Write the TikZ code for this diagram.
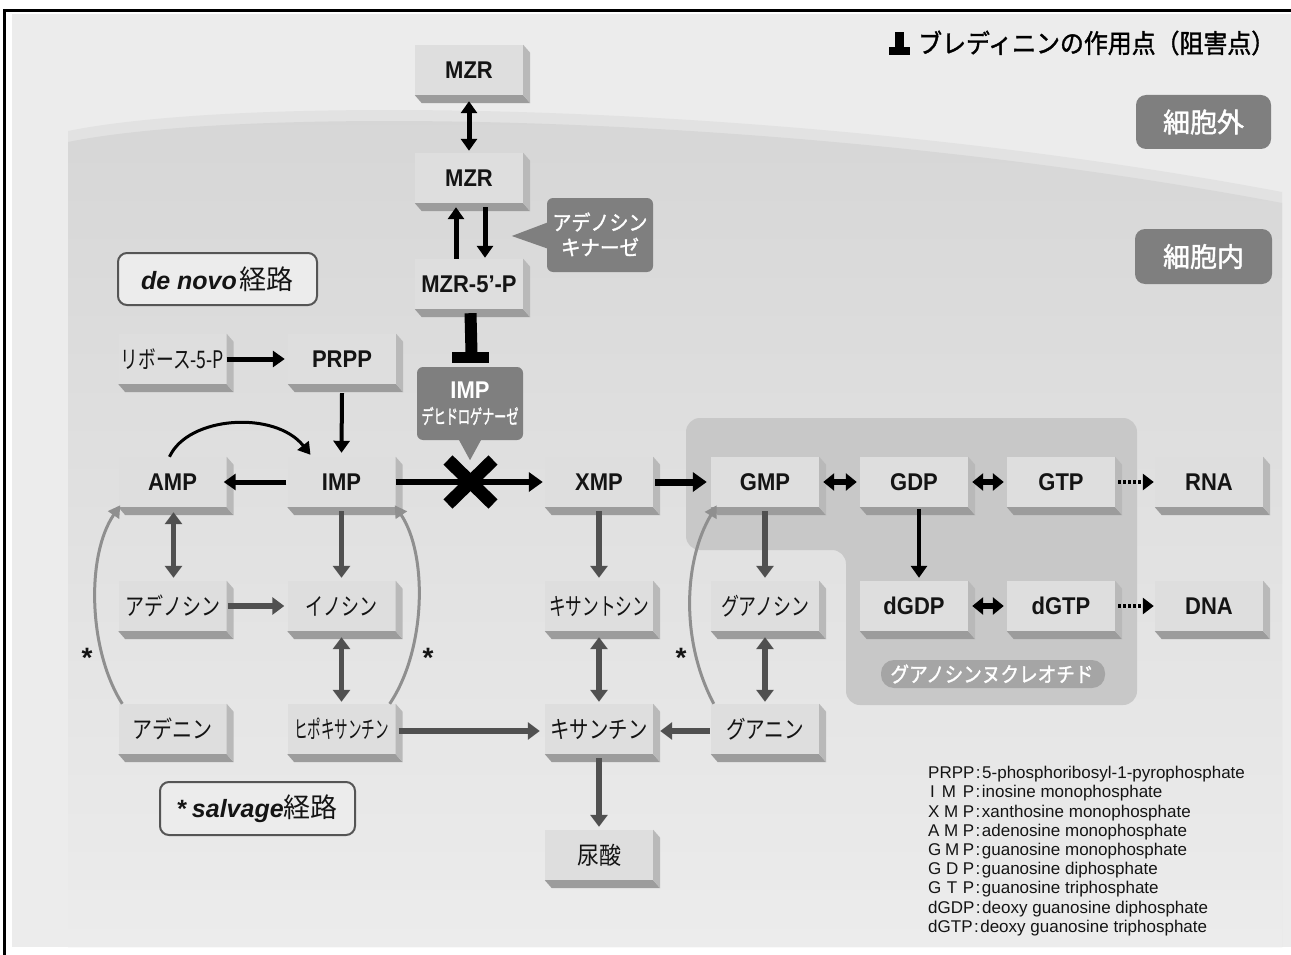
\documentclass[tikz,border=0pt]{standalone}
\usepackage{fontspec}
\usepackage{graphicx}
\setmainfont{Liberation Sans}
\newfontfamily\jp{Noto Sans CJK JP}
\newfontfamily\jpb[FakeBold=1.5]{Noto Sans CJK JP}
\usetikzlibrary{arrows.meta,calc}
\definecolor{bgc}{HTML}{ECECEC}
\definecolor{celltop}{HTML}{D6D6D6}
\definecolor{cellmid}{HTML}{E1E1E1}
\definecolor{bandc}{HTML}{E2E2E2}
\definecolor{boxface}{HTML}{DEDEDE}
\definecolor{boxside}{HTML}{B9B9B9}
\definecolor{boxbot}{HTML}{9C9C9C}
\definecolor{guanc}{HTML}{C8C8C8}
\definecolor{calloutc}{HTML}{7F7F7F}
\definecolor{pillc}{HTML}{A5A5A5}
\definecolor{grayarr}{HTML}{505050}
\definecolor{salvc}{HTML}{8F8F8F}
\definecolor{txtc}{HTML}{141414}
\definecolor{labborder}{HTML}{555555}
\newcommand\fsz[1]{\fontsize{#1}{#1}\selectfont}
\newcommand\fitw[2]{\resizebox{#1}{\height}{#2}}
\newcommand\bx[4][pbox]{%
  \node[#1] (#2) at (#3) {\scalebox{1}[1.1]{#4}};
  \fill[boxbot] (#2.south west) -- ++(7,8) -- ([shift={(7,8)}]#2.south east) -- (#2.south east) -- cycle;
  \fill[boxside] (#2.north east) -- ++(7,8) -- ([shift={(7,8)}]#2.south east) -- (#2.south east) -- cycle;
}
\tikzset{
  pbox/.style={fill=boxface, minimum width=108pt, minimum height=50pt, inner sep=0pt, text=txtc, font=\fsz{22}\bfseries},
  jbox/.style={pbox, font=\jp\fsz{22}},
  calloutbox/.style={fill=calloutc, rounded corners=6pt, inner sep=0pt},
  wtxt/.style={text=white, inner sep=0pt},
  lab/.style={draw=labborder, line width=2pt, rounded corners=9pt, fill=bgc, inner sep=0pt, text=txtc},
  blkarr/.style={draw=black, line width=5pt, -{Triangle[length=12pt,width=16pt]}},
  fatarr/.style={draw=black, line width=7pt, -{Triangle[length=14pt,width=19pt]}},
  blkdbl/.style={draw=black, line width=5pt, {Triangle[length=12pt,width=16pt]}-{Triangle[length=12pt,width=16pt]}},
  fatdbl/.style={draw=black, line width=6pt, {Triangle[length=11pt,width=17pt]}-{Triangle[length=11pt,width=17pt]}},
  dotarr/.style={draw=black, line width=4pt, dash pattern=on 3pt off 2pt, -{Triangle[length=11pt,width=16pt]}},
  thinarr/.style={draw=black, line width=3pt, -{Triangle[length=12pt,width=14pt]}},
  gryarr/.style={draw=grayarr, line width=5.5pt, -{Triangle[length=12pt,width=17pt]}},
  grydbl/.style={draw=grayarr, line width=5.5pt, {Triangle[length=12pt,width=17pt]}-{Triangle[length=12pt,width=17pt]}},
  salv/.style={draw=salvc, line width=3pt, -{Triangle[length=12pt,width=13pt]}},
  legend/.style={anchor=base west, inner sep=0pt, font=\fsz{17}, text=txtc},
  star/.style={inner sep=0pt, font=\fsz{28}\bfseries, text=txtc}
}
\begin{document}
\begin{tikzpicture}[x=1pt,y=-1pt]
\useasboundingbox (0,0) rectangle (1291,955);
\fill[white] (0,0) rectangle (1291,955);
% frame and background
\fill[bgc] (12,14) rectangle (1291,947);
\draw[line width=2.6pt] (4.7,955) -- (4.7,10.3) -- (1291,10.3);
% cell region
\fill[bandc] (68,947) -- (68,131) .. controls (250,94) and (800,101) .. (1282,192) -- (1282,947) -- cycle;
\shade[top color=celltop, middle color=cellmid, bottom color=bgc] (68,947) -- (68,142) .. controls (250,105) and (800,112) .. (1282,203) -- (1282,947) -- cycle;
% guanosine nucleotide region
\fill[guanc, rounded corners=14pt] (686,418) -- (1137,418) -- (1137,705) -- (846,705) -- (846,550) -- (686,550) -- cycle;
\node[fill=pillc, rounded corners=13pt, minimum width=224pt, minimum height=28pt, inner sep=0pt] (gnpill) at (993,674) {};
\node[wtxt, font=\jpb\fsz{21}] (gnlabel) at (992,674) {\fitw{203pt}{グアノシンヌクレオチド}};

% title
\fill[black] (895,32) rectangle (903.5,47);
\fill[black] (889,47) rectangle (910,55);
\node[anchor=west, inner sep=0pt, font=\jpb\fsz{26}, text=black] (title) at (918,43) {\fitw{357pt}{ブレディニンの作用点（阻害点）}};

% location labels
\node[calloutbox, rounded corners=10pt, minimum width=135pt, minimum height=54pt] (outside) at (1203.5,122) {};
\node[wtxt, font=\jpb\fsz{27}] (outsideT) at (1203.5,122) {細胞外};
\node[calloutbox, rounded corners=10pt, minimum width=137pt, minimum height=55pt] (inside) at (1203.5,256.5) {};
\node[wtxt, font=\jpb\fsz{27}] (insideT) at (1203.5,256.5) {細胞内};

% boxes
\bx{mzrA}{469,70}{MZR}
\bx{mzrB}{469,178}{MZR}
\bx{mzrP}{469,284}{MZR-5'-P}
\bx[jbox]{rib}{172.5,359}{\fitw{103pt}{リボース-5-P}}
\bx{prpp}{342,359}{PRPP}
\bx{amp}{172.5,482}{AMP}
\bx{imp}{341.5,482}{IMP}
\bx{xmp}{599,482}{XMP}
\bx{gmp}{765,482}{GMP}
\bx{gdp}{914,482}{GDP}
\bx{gtp}{1061,482}{GTP}
\bx{rna}{1209,482}{RNA}
\bx[jbox]{ado}{172.5,606}{\fitw{95pt}{アデノシン}}
\bx[jbox]{ino}{341.5,606}{\fitw{72pt}{イノシン}}
\bx[jbox]{xao}{599,606}{\fitw{100pt}{キサントシン}}
\bx[jbox]{guo}{765,606}{\fitw{88pt}{グアノシン}}
\bx{dgdp}{914,606}{dGDP}
\bx{dgtp}{1061,606}{dGTP}
\bx{dna}{1209,606}{DNA}
\bx[jbox]{ade}{172.5,729}{\fitw{80pt}{アデニン}}
\bx[jbox]{hyp}{341.5,729}{\fitw{95pt}{ヒポキサンチン}}
\bx[jbox]{xan}{599,729}{\fitw{97pt}{キサンチン}}
\bx[jbox]{gua}{765,729}{\fitw{78pt}{グアニン}}
\bx[jbox]{uric}{599,855}{\fitw{44pt}{尿酸}}

% callouts
\node[calloutbox, minimum width=106pt, minimum height=74pt] (ak) at (600,235) {};
\fill[calloutc] ([shift={(2,-13)}]ak.west) -- ([shift={(-35,1)}]ak.west) -- ([shift={(2,14)}]ak.west) -- cycle;
\node[wtxt, font=\jpb\fsz{21}] (akA) at (600,222) {\fitw{95pt}{アデノシン}};
\node[wtxt, font=\jpb\fsz{21}] (akB) at (600,247) {\fitw{78pt}{キナーゼ}};

\node[calloutbox, minimum width=106pt, minimum height=73pt] (impdh) at (470,403.5) {};
\fill[calloutc] ([shift={(-12,-2)}]impdh.south) -- ([shift={(0,20)}]impdh.south) -- ([shift={(12,-2)}]impdh.south) -- cycle;
\node[wtxt, font=\fsz{22}\bfseries] (impdhA) at (470,390) {\scalebox{1}[1.1]{IMP}};
\node[wtxt, font=\jpb\fsz{20}] (impdhB) at (470,416) {\fitw{97pt}{デヒドロゲナーゼ}};

% pathway labels
\node[lab, minimum width=199pt, minimum height=52pt] (denovo) at (217.5,279) {\fsz{25}\bfseries\itshape de novo\hspace{3pt}{\normalfont\jp\fsz{27}経路}};
\node[lab, minimum width=195pt, minimum height=53pt] (salvage) at (257.5,808.5) {\fsz{25}\bfseries *\hspace{5pt}\itshape salvage{\normalfont\jp\fsz{27}経路}};

% MZR transport / phosphorylation
\draw[blkdbl] ([yshift=-6pt]mzrA.south) -- ([yshift=2pt]mzrB.north);
\draw[blkarr] ([xshift=-13pt]mzrP.north) -- ([xshift=-13pt,yshift=-4pt]mzrB.south);
\draw[blkarr] ([xshift=16pt,yshift=-4pt]mzrB.south) -- ([xshift=16pt,yshift=1pt]mzrP.north);
% inhibition
\draw[line width=12pt, black] ([xshift=1.5pt,yshift=-4pt]mzrP.south) -- ([xshift=1.5pt,yshift=14pt]impdh.north);
\fill[black] ([xshift=-18pt,yshift=15pt]impdh.north) rectangle ([xshift=19pt,yshift=4pt]impdh.north);

% de novo
\draw[blkarr] (rib.east) -- ([xshift=-3pt]prpp.west);
\draw[blkarr, line width=4pt] ([yshift=-9pt]prpp.south) -- ([yshift=4pt]imp.north);
\draw[blkarr] ([xshift=-1pt]imp.west) -- ([xshift=-3pt]amp.east);
\draw[thinarr] ([xshift=-3pt]amp.north) .. controls (188,416) and (275,410) .. ([shift={(-31,-2)}]imp.north);
\draw[fatarr, line width=6pt] (imp.east) -- ([xshift=-2pt]xmp.west);
% X mark
\draw[line width=13pt, black] (448,460) -- (493,504);
\draw[line width=13pt, black] (448,504) -- (493,460);
\draw[fatarr] ([xshift=2pt]xmp.east) -- ([xshift=-4pt]gmp.west);
\draw[fatdbl] ([xshift=4pt]gmp.east) -- ([xshift=-3pt]gdp.west);
\draw[fatdbl] ([xshift=4pt]gdp.east) -- ([xshift=-3pt]gtp.west);
\draw[dotarr] ([xshift=3pt]gtp.east) -- ([xshift=-1pt]rna.west);
\draw[blkarr, line width=4pt] ([xshift=5pt,yshift=-2pt]gdp.south) -- ([xshift=5pt,yshift=3pt]dgdp.north);
\draw[fatdbl] ([xshift=4pt]dgdp.east) -- ([xshift=-3pt]dgtp.west);
\draw[dotarr] ([xshift=3pt]dgtp.east) -- ([xshift=-1pt]dna.west);

% degradation / salvage (gray)
\draw[grydbl] ([xshift=1pt,yshift=-5pt]amp.south) -- ([xshift=1pt,yshift=3pt]ado.north);
\draw[gryarr] ([yshift=-4pt]imp.south) -- ([yshift=3pt]ino.north);
\draw[gryarr] ([xshift=1pt]ado.east) -- ([xshift=-3pt]ino.west);
\draw[grydbl] ([yshift=-6pt]ino.south) -- ([yshift=2pt]hyp.north);
\draw[gryarr] ([xshift=3pt,yshift=-2pt]hyp.east) -- ([xshift=-5pt,yshift=-2pt]xan.west);
\draw[gryarr] ([yshift=-4pt]xmp.south) -- ([yshift=3pt]xao.north);
\draw[grydbl] ([yshift=-6pt]xao.south) -- ([yshift=2pt]xan.north);
\draw[gryarr] ([yshift=-4pt]gmp.south) -- ([yshift=3pt]guo.north);
\draw[grydbl] ([yshift=-6pt]guo.south) -- ([yshift=2pt]gua.north);
\draw[gryarr] ([xshift=-1pt,yshift=-2pt]gua.west) -- ([xshift=7pt,yshift=-2pt]xan.east);
\draw[gryarr] ([yshift=-4pt]xan.south) -- ([yshift=3pt]uric.north);

% salvage curves
\draw[salv] ([xshift=4pt]ade.north west) .. controls (88,650) and (86,555) .. ([shift={(2,-2)}]amp.south west);
\draw[salv] ([xshift=-6pt]hyp.north east) .. controls (426,650) and (428,555) .. ([shift={(-1,-2)}]imp.south east);
\draw[salv] ([xshift=3pt]gua.north west) .. controls (680,640) and (684,560) .. ([shift={(6,-2)}]gmp.south west);
\node[star] (s1) at (87,658) {*};
\node[star] (s2) at (428,658) {*};
\node[star] (s3) at (681,658) {*};

% legend
\node[legend] (l1) at (928,778) {PRPP\hspace{1.5pt}:\hspace{1.5pt}5-phosphoribosyl-1-pyrophosphate};
\node[legend] (l2) at (928,797) {\makebox[46pt][s]{\hspace{2pt}I\hfill M\hfill P}\hspace{1.5pt}:\hspace{1.5pt}inosine monophosphate};
\node[legend] (l3) at (928,817) {\makebox[46pt][s]{X\hfill M\hfill P}\hspace{1.5pt}:\hspace{1.5pt}xanthosine monophosphate};
\node[legend] (l4) at (928,836) {\makebox[46pt][s]{A\hfill M\hfill P}\hspace{1.5pt}:\hspace{1.5pt}adenosine monophosphate};
\node[legend] (l5) at (928,855) {\makebox[46pt][s]{G\hfill M\hfill P}\hspace{1.5pt}:\hspace{1.5pt}guanosine monophosphate};
\node[legend] (l6) at (928,874) {\makebox[46pt][s]{G\hfill D\hfill P}\hspace{1.5pt}:\hspace{1.5pt}guanosine diphosphate};
\node[legend] (l7) at (928,893) {\makebox[46pt][s]{G\hfill T\hfill P}\hspace{1.5pt}:\hspace{1.5pt}guanosine triphosphate};
\node[legend] (l8) at (928,913) {dGDP\hspace{1.5pt}:\hspace{1.5pt}deoxy guanosine diphosphate};
\node[legend] (l9) at (928,932) {dGTP\hspace{1.5pt}:\hspace{1.5pt}deoxy guanosine triphosphate};
\end{tikzpicture}
\end{document}
